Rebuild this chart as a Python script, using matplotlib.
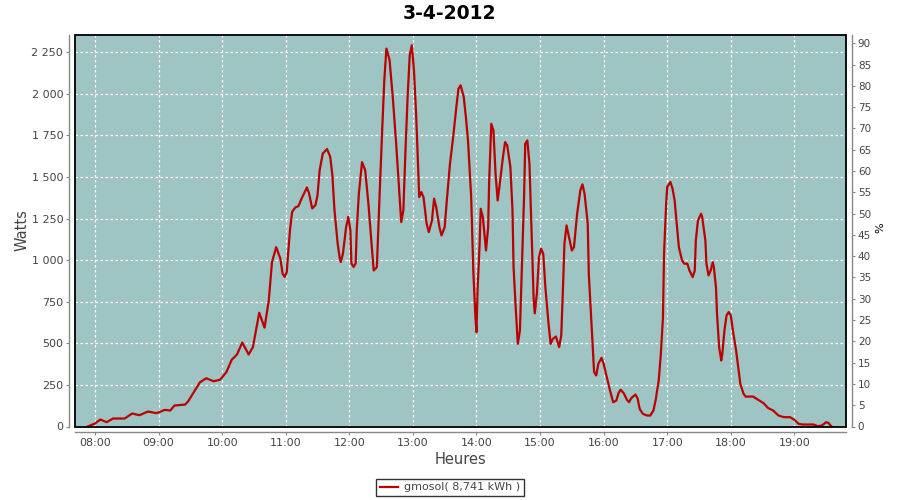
import matplotlib
matplotlib.use('Agg')
import matplotlib.pyplot as plt
from matplotlib.patches import Rectangle
from matplotlib.ticker import FixedLocator

title = "3-4-2012"
legend_label = "gmosol( 8,741 kWh )"
x_label = "Heures"
y_label = "Watts"
y2_label = "%"

times = [
    "07:53", "08:00", "08:05", "08:11", "08:17", "08:28", "08:35", "08:42", "08:50", "08:58",
    "09:06", "09:11", "09:15", "09:25", "09:28", "09:39", "09:45", "09:52", "09:58", "10:04",
    "10:09", "10:14", "10:19", "10:25", "10:29", "10:35", "10:40", "10:44", "10:47", "10:51",
    "10:55", "10:57", "10:59", "11:01", "11:02", "11:04", "11:06", "11:09", "11:12", "11:15",
    "11:20", "11:22", "11:25", "11:28", "11:30", "11:32", "11:35", "11:39", "11:42", "11:44",
    "11:46", "11:49", "11:51", "11:52", "11:54", "11:57", "11:59", "12:01", "12:02", "12:04",
    "12:06", "12:07", "12:09", "12:12", "12:15", "12:18", "12:21", "12:23", "12:26", "12:28",
    "12:31", "12:33", "12:35", "12:38", "12:41", "12:44", "12:47", "12:49", "12:51", "12:53",
    "12:55", "12:57", "12:59", "13:01", "13:03", "13:05", "13:06", "13:08", "13:10", "13:13",
    "13:15", "13:18", "13:20", "13:22", "13:25", "13:27", "13:30", "13:32", "13:35", "13:38",
    "13:41", "13:43", "13:45", "13:48", "13:50", "13:52", "13:55", "13:57", "13:59", "14:00",
    "14:01", "14:03", "14:04", "14:06", "14:09", "14:11", "14:12", "14:14", "14:16", "14:18",
    "14:20", "14:22", "14:25", "14:27", "14:29", "14:32", "14:34", "14:35", "14:37", "14:39",
    "14:41", "14:43", "14:45", "14:46", "14:48", "14:50", "14:52", "14:54", "14:55", "14:57",
    "14:59", "15:01", "15:03", "15:05", "15:08", "15:10", "15:12", "15:15", "15:18", "15:20",
    "15:22", "15:23", "15:25", "15:28", "15:30", "15:32", "15:35", "15:38", "15:40", "15:42",
    "15:45", "15:46", "15:48", "15:50", "15:51", "15:53", "15:55", "15:58", "16:00", "16:03",
    "16:06", "16:09", "16:12", "16:14", "16:16", "16:19", "16:22", "16:24", "16:26", "16:30",
    "16:32", "16:34", "16:37", "16:41", "16:44", "16:47", "16:49", "16:52", "16:54", "16:56",
    "16:57", "16:59", "17:00", "17:03", "17:05", "17:07", "17:09", "17:11", "17:14", "17:16",
    "17:19", "17:21", "17:24", "17:26", "17:27", "17:29", "17:32", "17:33", "17:36", "17:37",
    "17:39", "17:41", "17:43", "17:44", "17:46", "17:47", "17:49", "17:51", "17:52", "17:54",
    "17:56", "17:58", "18:00", "18:02", "18:05", "18:07", "18:09", "18:12", "18:14", "18:21",
    "18:26", "18:31", "18:35", "18:40", "18:45", "18:50", "18:56", "19:00", "19:04", "19:08",
    "19:18", "19:22", "19:26", "19:30", "19:32", "19:35",
]

watts = [
    0, 18, 42, 26, 48, 48, 78, 68, 90, 80,
    100, 96, 126, 132, 152, 266, 290, 272, 281, 327,
    401, 433, 505, 433, 477, 684, 594, 758, 988, 1078,
    1008, 919, 899, 929, 1019, 1180, 1290, 1317, 1325, 1371,
    1437, 1401, 1311, 1331, 1391, 1541, 1642, 1668, 1621, 1511,
    1301, 1100, 1010, 989, 1040, 1200, 1260, 1180, 980, 959,
    981, 1180, 1400, 1590, 1540, 1340, 1099, 938, 958, 1299,
    1780, 2081, 2272, 2202, 1981, 1720, 1420, 1229, 1299, 1660,
    1981, 2232, 2292, 2141, 1883, 1540, 1379, 1409, 1379, 1219,
    1169, 1239, 1370, 1319, 1199, 1149, 1199, 1359, 1580, 1740,
    1921, 2031, 2051, 1981, 1860, 1720, 1379, 938, 657, 567,
    818, 1099, 1309, 1259, 1058, 1199, 1480, 1820, 1780, 1520,
    1359, 1460, 1620, 1710, 1690, 1560, 1299, 958, 718, 497,
    577, 979, 1400, 1700, 1720, 1580, 1179, 760, 680, 800,
    1018, 1069, 1039, 838, 618, 497, 527, 541, 477, 547,
    898, 1099, 1209, 1119, 1058, 1078, 1279, 1420, 1456, 1400,
    1219, 918, 678, 437, 327, 307, 377, 413, 377, 297,
    217, 146, 156, 200, 221, 200, 160, 146, 170, 192,
    170, 106, 76, 66, 66, 96, 156, 277, 437, 657,
    1039, 1340, 1440, 1470, 1430, 1359, 1219, 1078, 998, 979,
    979, 938, 898, 938, 1119, 1239, 1279, 1259, 1119, 979,
    908, 938, 988, 958, 838, 678, 477, 397, 437, 577,
    668, 688, 668, 577, 457, 357, 257, 197, 180, 180,
    160, 140, 112, 96, 66, 56, 56, 40, 16, 12,
    12, 2, 6, 26, 22, 0,
]

hour_ticks = ["08:00", "09:00", "10:00", "11:00", "12:00", "13:00",
              "14:00", "15:00", "16:00", "17:00", "18:00", "19:00"]
watt_ticks = [0, 250, 500, 750, 1000, 1250, 1500, 1750, 2000, 2250]
pct_ticks = [0, 5, 10, 15, 20, 25, 30, 35, 40, 45, 50, 55, 60, 65, 70, 75, 80, 85, 90]


def to_hours(t):
    h, m = t.split(":")
    return int(h) + int(m) / 60.0


xs = [to_hours(t) for t in times]
tick_pos = [to_hours(t) for t in hour_ticks]

W, H = 900, 500
fig = plt.figure(figsize=(9, 5), dpi=100)
left, right, top, bottom = 75, 846, 35.3, 426.5
ax = fig.add_axes([left / W, 1 - bottom / H, (right - left) / W, (bottom - top) / H])
ax.set_facecolor('#9fc4c4')

ax.plot(xs, watts, color='#bb0000', lw=1.6, zorder=3, label=legend_label)

ax.set_xlim(7.6855, 19.812)
ax.set_ylim(0, 2352)

ax.set_xticks(tick_pos)
ax.set_xticklabels(hour_ticks)
ax.set_yticks(watt_ticks)
ax.set_yticklabels(["{:,}".format(v).replace(",", " ") for v in watt_ticks])

ax.grid(True, color='white', linestyle=(0, (2, 2)), lw=0.9)
ax.set_axisbelow(True)

ax2 = ax.twinx()
ax2.set_ylim(0, 2352 / 25.6)
ax2.yaxis.set_major_locator(FixedLocator(pct_ticks))
ax2.set_yticklabels([str(v) for v in pct_ticks])

gray = '#888888'
txt = '#444444'
for a in (ax, ax2):
    for s in a.spines.values():
        s.set_color(gray)
        s.set_linewidth(1.0)
    a.spines['top'].set_visible(False)
ax.spines['right'].set_visible(False)
ax2.spines['left'].set_visible(False)
ax2.spines['bottom'].set_visible(False)
ax.spines['left'].set_position(('outward', 4))
ax.spines['bottom'].set_position(('outward', 4))
ax2.spines['right'].set_position(('outward', 4))

ax.tick_params(axis='both', colors=gray, labelcolor=txt, labelsize=8, length=2.5, width=0.8, pad=2)
ax2.tick_params(axis='y', colors=gray, labelcolor=txt, labelsize=7.5, length=2.5, width=0.8, pad=2)

ax2.add_patch(Rectangle((0, 0), 1, 1, transform=ax2.transAxes, fill=False,
                        edgecolor='black', lw=1.3, zorder=10, clip_on=False))

fig.text(449 / W, 1 - 13.5 / H, title, ha='center', va='center',
         fontsize=13.5, fontweight='bold', color='black')
fig.text(22 / W, 1 - 230 / H, y_label, rotation=90, ha='center', va='center',
         fontsize=10.5, color=txt)
fig.text(880 / W, 1 - 228 / H, y2_label, rotation=90, ha='center', va='center',
         fontsize=8, color='black')
fig.text(460.5 / W, 1 - 460 / H, x_label, ha='center', va='center',
         fontsize=10.5, color=txt)

leg = fig.legend(handles=ax.get_lines(), labels=[legend_label],
                 loc='center', bbox_to_anchor=(450 / W, 1 - 487.5 / H),
                 fontsize=8, frameon=True, fancybox=False, handlelength=1.6,
                 handletextpad=0.5, borderpad=0.35, borderaxespad=0)
leg.get_frame().set_edgecolor('black')
leg.get_frame().set_linewidth(1.0)
for t in leg.get_texts():
    t.set_color(txt)

fig.savefig('out.png', dpi=100)
